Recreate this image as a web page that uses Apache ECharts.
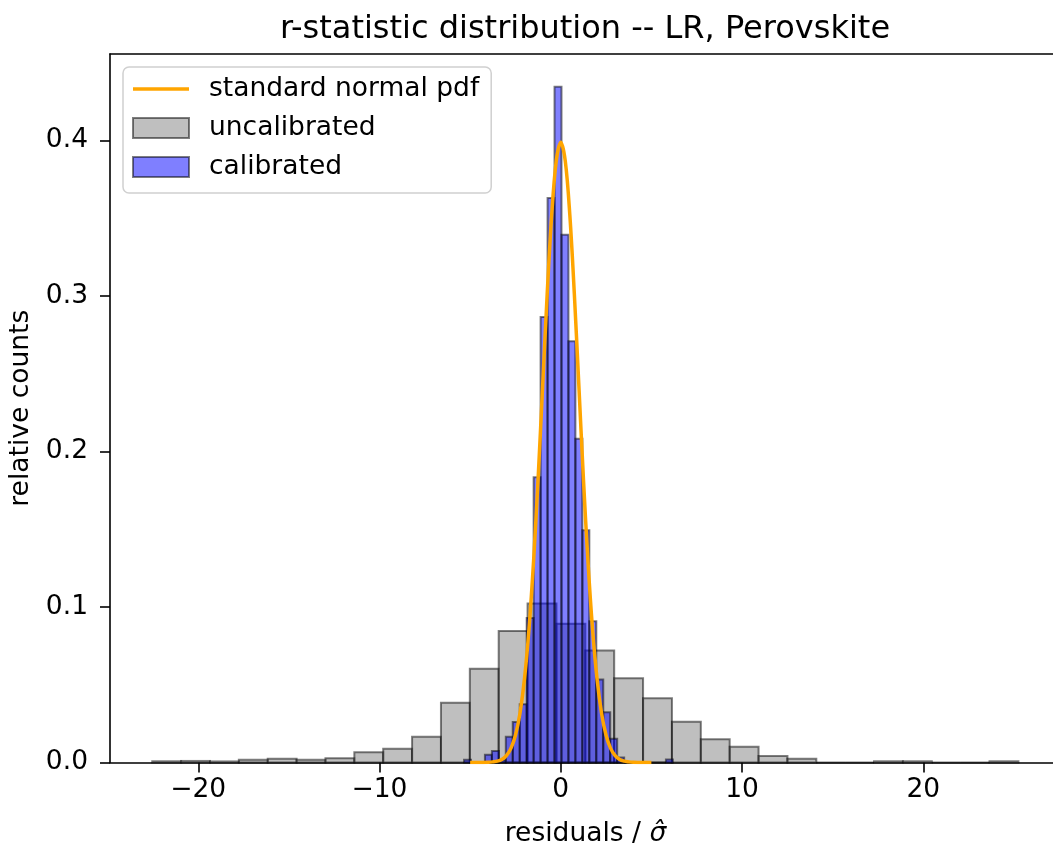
<!DOCTYPE html>
<html>
<head>
<meta charset="utf-8">
<script src="https://cdn.jsdelivr.net/npm/echarts@6/dist/echarts.min.js"></script>
<style>
  html, body { margin: 0; padding: 0; background: #fff; }
  #chart { width: 1053px; height: 846px; }
</style>
</head>
<body>
<div id="chart"></div>
<script>
// ---- data ----
const titleText = 'r-statistic distribution -- LR, Perovskite';
const xAxisName = 'residuals / ';
const yAxisName = 'relative counts';
const seriesNames = ['standard normal pdf', 'uncalibrated', 'calibrated'];

// uncalibrated histogram: 30 bins starting at uncalMin, each uncalWidth wide (density)
const uncalMin = -22.54;
const uncalWidth = 1.593;
const uncalValues = [0.0008, 0.0010, 0.0007, 0.0017, 0.0024, 0.0017, 0.0028, 0.0066, 0.0088, 0.0165,
                     0.0384, 0.0603, 0.0845, 0.1023, 0.0892, 0.0720, 0.0542, 0.0413, 0.0262, 0.0150,
                     0.0101, 0.0041, 0.0024, 0.0000, 0.0000, 0.0008, 0.0008, 0.0000, 0.0000, 0.0008];

// calibrated histogram: 30 bins starting at calMin, each calWidth wide (density)
const calMin = -5.337;
const calWidth = 0.3841;
const calValues = [0.0018, 0.0000, 0.0000, 0.0050, 0.0074, 0.0015, 0.0165, 0.0260, 0.0375, 0.0930,
                   0.1834, 0.2864, 0.3630, 0.4345, 0.3394, 0.2709, 0.2082, 0.1494, 0.0908, 0.0534,
                   0.0323, 0.0152, 0.0032, 0.0000, 0.0000, 0.0000, 0.0000, 0.0000, 0.0000, 0.0020];

// standard normal pdf curve
const pdfX = [-5, -4.75, -4.5, -4.25, -4, -3.75, -3.5, -3.25, -3, -2.75, -2.5, -2.25, -2, -1.75, -1.5, -1.25, -1, -0.75, -0.5, -0.25,
              0, 0.25, 0.5, 0.75, 1, 1.25, 1.5, 1.75, 2, 2.25, 2.5, 2.75, 3, 3.25, 3.5, 3.75, 4, 4.25, 4.5, 4.75, 5];
const pdfY = [0.0000, 0.0000, 0.0000, 0.0000, 0.0001, 0.0004, 0.0009, 0.0020, 0.0044, 0.0091, 0.0175, 0.0317, 0.0540, 0.0863, 0.1295, 0.1826, 0.2420, 0.3011, 0.3521, 0.3867,
              0.3989, 0.3867, 0.3521, 0.3011, 0.2420, 0.1826, 0.1295, 0.0863, 0.0540, 0.0317, 0.0175, 0.0091, 0.0044, 0.0020, 0.0009, 0.0004, 0.0001, 0.0000, 0.0000, 0.0000, 0.0000];

// axes
const xMin = -24.87, xMax = 27.6;
const yMin = 0, yMax = 0.4556;
const xTicks = [-20, -10, 0, 10, 20];
const yTicks = [0, 0.1, 0.2, 0.3, 0.4];

// ---- build ----
const FONT = 'DejaVu Sans';
const FS = 26.5;
function histData(min, width, values) {
  return values.map((v, i) => [min + i * width, min + (i + 1) * width, v]);
}
const grayStyle = { color: 'rgba(128,128,128,0.5)', borderColor: 'rgba(0,0,0,0.5)', borderWidth: 2 };
const blueStyle = { color: 'rgba(0,0,255,0.5)', borderColor: 'rgba(0,0,0,0.5)', borderWidth: 2 };

function makeRender(style) {
  return function (params, api) {
    const x0 = api.value(0), x1 = api.value(1), h = api.value(2);
    const p0 = api.coord([x0, h]);
    const p1 = api.coord([x1, 0]);
    return {
      type: 'rect',
      shape: { x: p0[0], y: p0[1], width: p1[0] - p0[0], height: p1[1] - p0[1] },
      style: { fill: style.color, stroke: style.borderColor, lineWidth: style.borderWidth }
    };
  };
}

const chart = echarts.init(document.getElementById('chart'), null, { renderer: 'canvas' });
const option = {
  animation: false,
  backgroundColor: '#ffffff',
  title: {
    text: titleText,
    left: 580,
    textAlign: 'center',
    top: 9,
    textStyle: { fontFamily: FONT, fontSize: 32, fontWeight: 'normal', color: '#000' }
  },
  legend: {
    orient: 'vertical',
    left: 123,
    top: 67,
    padding: [7, 12, 11, 9],
    itemGap: 9,
    itemWidth: 56,
    itemHeight: 20,
    borderColor: '#d0d0d0',
    borderWidth: 1.5,
    borderRadius: 6,
    backgroundColor: 'rgba(255,255,255,0.8)',
    textStyle: { fontFamily: FONT, fontSize: FS, color: '#000', lineHeight: 30, padding: [0, 0, 0, 15] },
    data: [
      { name: seriesNames[0], icon: 'path://M0,0L56,0L56,3.5L0,3.5Z', itemStyle: { color: '#ffa500', borderWidth: 0 } },
      { name: seriesNames[1], icon: 'rect', itemStyle: grayStyle },
      { name: seriesNames[2], icon: 'rect', itemStyle: blueStyle }
    ]
  },
  grid: { left: 110, right: -8, top: 54, bottom: 83.5, outerBoundsMode: 'none', containLabel: false },
  xAxis: [{
    type: 'value',
    min: xMin, max: xMax,
    name: xAxisName + '{i|σ̂}',
    nameLocation: 'middle',
    nameGap: 58,
    nameTextStyle: {
      fontFamily: FONT, fontSize: FS, color: '#000',
      rich: { i: { fontFamily: FONT, fontSize: FS, fontStyle: 'italic', color: '#000' } }
    },
    axisLine: { show: true, onZero: false, lineStyle: { color: '#000', width: 1.6 } },
    axisTick: { show: true, inside: false, length: 10, customValues: xTicks, lineStyle: { color: '#000', width: 1.6 } },
    axisLabel: {
      show: true, customValues: xTicks, margin: 14,
      fontFamily: FONT, fontSize: FS, color: '#000',
      formatter: v => (v < 0 ? '\u2212' + Math.abs(v) : String(v))
    },
    splitLine: { show: false }
  }, {
    type: 'value',
    position: 'top',
    min: xMin, max: xMax,
    axisLine: { show: true, onZero: false, lineStyle: { color: '#000', width: 1.6 } },
    axisTick: { show: false },
    axisLabel: { show: false },
    splitLine: { show: false }
  }],
  yAxis: {
    type: 'value',
    min: yMin, max: yMax,
    name: yAxisName,
    nameLocation: 'middle',
    nameGap: 70,
    nameRotate: 90,
    nameTextStyle: { fontFamily: FONT, fontSize: FS, color: '#000' },
    axisLine: { show: true, onZero: false, lineStyle: { color: '#000', width: 1.6 } },
    axisTick: { show: true, inside: false, length: 10, customValues: yTicks, lineStyle: { color: '#000', width: 1.6 } },
    axisLabel: {
      show: true, customValues: yTicks, margin: 22,
      fontFamily: FONT, fontSize: FS, color: '#000',
      formatter: v => v.toFixed(1)
    },
    splitLine: { show: false }
  },
  series: [
    {
      name: seriesNames[1],
      type: 'custom',
      xAxisIndex: 0,
      renderItem: makeRender(grayStyle),
      itemStyle: grayStyle,
      encode: { x: [0, 1], y: 2 },
      data: histData(uncalMin, uncalWidth, uncalValues),
      z: 1
    },
    {
      name: seriesNames[2],
      type: 'custom',
      xAxisIndex: 0,
      renderItem: makeRender(blueStyle),
      itemStyle: blueStyle,
      encode: { x: [0, 1], y: 2 },
      data: histData(calMin, calWidth, calValues),
      z: 2
    },
    {
      name: seriesNames[0],
      type: 'line',
      xAxisIndex: 0,
      symbol: 'none',
      smooth: 0.35,
      lineStyle: { color: '#ffa500', width: 3.5 },
      itemStyle: { color: '#ffa500' },
      data: pdfX.map((x, i) => [x, pdfY[i]]),
      z: 3
    }
  ]
};
chart.setOption(option);
</script>
</body>
</html>
